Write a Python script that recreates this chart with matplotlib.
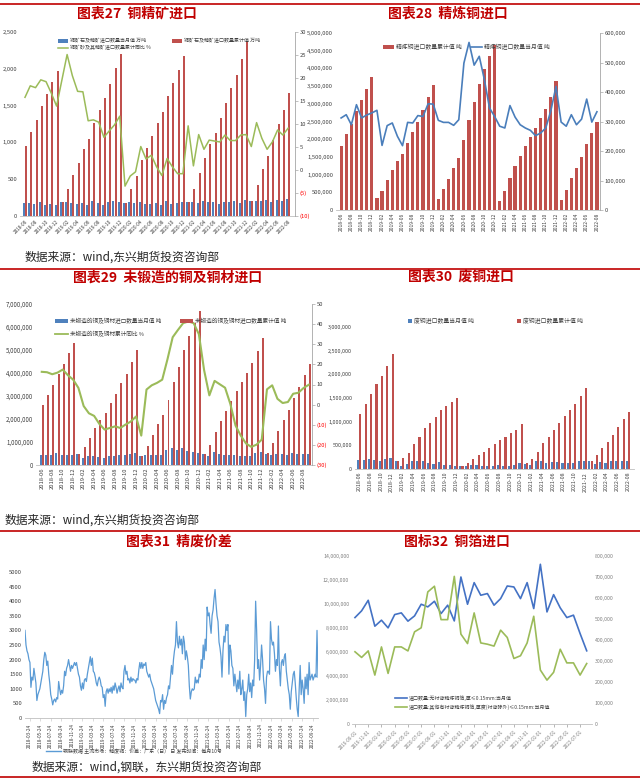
import numpy as np
import pandas as pd
import matplotlib
matplotlib.use('Agg')
import matplotlib.pyplot as plt
from matplotlib.patches import Rectangle
from matplotlib.lines import Line2D

plt.rcParams['font.family'] = ['Noto Sans CJK SC', 'DejaVu Sans']
plt.rcParams['axes.unicode_minus'] = False

# ---------------- data ----------------
months27 = [p.strftime('%Y-%m') for p in pd.period_range('2018-06', '2022-08', freq='M')]
monthly27 = [170, 180, 160, 185, 150, 165, 145,
             185, 188, 170, 160, 180, 145, 200, 180, 155, 185, 210, 185,
             180, 185, 170, 195, 165, 160, 170, 155, 210, 165, 180, 185,
             195, 195, 170, 210, 185, 185, 165, 185, 185, 210, 170, 215,
             200, 200, 200, 215, 185, 215, 200, 225]
cum27 = [955, 1141, 1305, 1495, 1655, 1827, 1973,
         185, 373, 559, 714, 905, 1045, 1259, 1441, 1600, 1791, 2005, 2200,
         180, 373, 550, 755, 923, 1086, 1259, 1418, 1636, 1805, 1982, 2177,
         190, 373, 591, 782, 977, 1123, 1327, 1532, 1736, 1909, 2136, 2359,
         200, 418, 632, 818, 1032, 1245, 1436, 1668]
yoy27 = [15.8, 18.3, 17.9, 19.6, 19.2, 16.7, 13.9,
         19.5, 25.1, 20.5, 17.1, 17.0, 10.7, 10.9, 10.4, 7.1, 8.5, 9.8, 11.7,
         -3.5, -1.3, -0.4, 5.1, 2.4, 3.2, 0.7, -1.2, 2.5, 0.7, -0.8, -0.8,
         9.6, 0.9, 7.7, 4.5, 6.5, 6.3, 6.1, 7.6, 6.4, 6.4, 7.6, 7.7,
         5.1, 10.3, 6.9, 4.5, 6.1, 8.7, 7.6, 9.1]

months28 = months27
cum28 = [1817e3, 2147e3, 2440e3, 2787e3, 3117e3, 3418e3, 3757e3,
         339e3, 546e3, 847e3, 1139e3, 1375e3, 1591e3, 1893e3, 2194e3, 2495e3, 2834e3, 3183e3, 3540e3,
         311e3, 603e3, 885e3, 1186e3, 1478e3, 1987e3, 2552e3, 3041e3, 3559e3, 3992e3, 4341e3, 4652e3,
         264e3, 546e3, 904e3, 1234e3, 1535e3, 1798e3, 2072e3, 2326e3, 2589e3, 2862e3, 3202e3, 3635e3,
         292e3, 574e3, 904e3, 1196e3, 1488e3, 1864e3, 2175e3, 2495e3]
monthly28 = [312e3, 323e3, 289e3, 357e3, 312e3, 322e3, 329e3,
             338e3, 219e3, 286e3, 295e3, 250e3, 218e3, 297e3, 295e3, 320e3, 317e3, 360e3, 359e3,
             304e3, 297e3, 297e3, 287e3, 306e3, 498e3, 568e3, 491e3, 521e3, 442e3, 346e3, 317e3,
             284e3, 278e3, 354e3, 315e3, 289e3, 278e3, 270e3, 252e3, 261e3, 278e3, 337e3, 419e3,
             298e3, 284e3, 323e3, 289e3, 308e3, 376e3, 298e3, 333e3]

months29 = [p.strftime('%Y-%m') for p in pd.period_range('2018-06', '2022-09', freq='M')]
monthly29 = [440e3, 430e3, 430e3, 510e3, 430e3, 440e3, 430e3,
             470e3, 300e3, 370e3, 390e3, 340e3, 320e3, 410e3, 400e3, 440e3, 420e3, 460e3, 510e3,
             400e3, 420e3, 430e3, 440e3, 430e3, 650e3, 760e3, 660e3, 730e3, 590e3, 560e3, 520e3,
             470e3, 400e3, 560e3, 470e3, 450e3, 440e3, 430e3, 400e3, 390e3, 400e3, 510e3, 560e3,
             500e3, 440e3, 500e3, 460e3, 450e3, 530e3, 460e3, 500e3, 500e3]
cum29 = [2.614e6, 3.05e6, 3.47e6, 3.965e6, 4.40e6, 4.865e6, 5.30e6,
         0.465e6, 0.77e6, 1.19e6, 1.60e6, 1.96e6, 2.28e6, 2.687e6, 3.09e6, 3.56e6, 3.965e6, 4.46e6, 4.996e6,
         0.407e6, 0.828e6, 1.307e6, 1.77e6, 2.18e6, 2.83e6, 3.60e6, 4.28e6, 5.01e6, 5.59e6, 6.17e6, 6.68e6,
         0.48e6, 0.87e6, 1.45e6, 1.92e6, 2.35e6, 2.79e6, 3.22e6, 3.63e6, 4.02e6, 4.43e6, 4.94e6, 5.52e6,
         0.51e6, 0.97e6, 1.48e6, 1.96e6, 2.40e6, 2.93e6, 3.40e6, 3.92e6, 4.41e6]
yoy29 = [16.3, 16.1, 15.1, 15.9, 17.4, 14.6, 12.4,
         8.3, -0.7, -4.3, -5.6, -9.6, -12.4, -11.6, -10.8, -11.6, -9.9, -8.4, -5.9,
         -15.4, 7.5, 9.6, 10.8, 12.4, 22.5, 33.5, 37.1, 40.5, 41.3, 40.5, 35.0,
         17.1, 4.6, 11.8, 10.1, 8.4, 0.4, -10.4, -15.4, -19.3, -21.0, -19.9, -17.4,
         7.6, 9.6, 2.9, 0.8, 1.3, 5.4, 5.9, 8.3, 9.9]

months30 = months27
monthly30 = [200e3, 200e3, 220e3, 190e3, 170e3, 220e3, 240e3,
             170e3, 60e3, 100e3, 170e3, 165e3, 170e3, 120e3, 100e3, 150e3, 90e3, 90e3, 70e3,
             60e3, 60e3, 80e3, 80e3, 70e3, 70e3, 70e3, 80e3, 70e3, 70e3, 90e3, 120e3,
             110e3, 80e3, 160e3, 170e3, 130e3, 150e3, 140e3, 130e3, 130e3, 130e3, 170e3, 160e3,
             160e3, 100e3, 150e3, 120e3, 160e3, 160e3, 160e3, 160e3]
cum30 = [1.159e6, 1.37e6, 1.595e6, 1.79e6, 1.96e6, 2.17e6, 2.424e6,
         0.169e6, 0.232e6, 0.344e6, 0.52e6, 0.68e6, 0.87e6, 0.98e6, 1.09e6, 1.24e6, 1.335e6, 1.42e6, 1.50e6,
         0.063e6, 0.126e6, 0.21e6, 0.295e6, 0.365e6, 0.45e6, 0.52e6, 0.604e6, 0.674e6, 0.752e6, 0.829e6, 0.948e6,
         0.119e6, 0.204e6, 0.365e6, 0.548e6, 0.674e6, 0.829e6, 0.977e6, 1.117e6, 1.244e6, 1.37e6, 1.546e6, 1.714e6,
         0.169e6, 0.295e6, 0.443e6, 0.562e6, 0.724e6, 0.885e6, 1.047e6, 1.208e6]

spread31_start, spread31_end = '2018-02-24', '2022-10-24'
spread31 = [3000, 2500, 2300, 2200, 2000, 1900, 1050, 1400, 1300, 1700, 1450, 1200, 600, 800, 900,
            1000, 1200, 1400, 1600, 2000, 2250, 2150, 1800, 1950, 1500, 1200, 800, 650, 450, 600, 650,
            550, 700, 650, 1250, 1000, 800, 950, 850, 1100, 1600, 1450, 1700, 1800, 2000, 1800, 1600,
            1800, 1700, 1800, 1900, 1800, 1900, 1700, 1500, 1400, 1100, 950, 1200, 1000, 1300, 1350,
            1250, 1500, 1700, 1900, 2100, 1800, 2050, 1600, 1550, 1400, 1200, 1100, 1300, 1400, 1300,
            1100, 1050, 700, 800, 400, 900, 1000, 850, 1000, 900, 1050, 850, 1100, 950, 1200, 1050,
            850, 1000, 1100, 900, 1200, 1050, 1000, 1600, 1800, 1500, 1600, 1300, 1350, 1200, 1400,
            1250, 1350, 1300, 1300, 1200, 1350, 1300, 1650, 1900, 1700, 1900, 1700, 1850, 1800, 1900,
            1600, 1500, 1400, 1500, 1300, 1200, 1100, 1000, 800, 600, 500, 400, 300, 150, 600, 550,
            800, 300, 600, 500, 700, 800, 1100, 1000, 1400, 1800, 1500, 2000, 2300, 2500, 3300, 2600,
            2400, 2800, 2500, 2700, 2200, 2800, 2600, 2000, 2300, 2100, 1800, 1100, 650, 900, 1000,
            950, 1000, 1400, 1200, 1300, 1200, 1500, 1400, 2000, 1700, 2500, 2000, 2700, 2300, 3800,
            3500, 3600, 3200, 2900, 3500, 3700, 4100, 4400, 3900, 3500, 3300, 2600, 2400, 2100, 1400,
            2300, 2800, 2600, 3200, 3000, 3200, 1500, 2500, 2300, 1800, 1700, 1100, 1500, 1200, 900,
            1300, 1000, 1600, 800, 1000, 1300, 600, 900, 50, 800, 1000, 1500, 900, 1200, 700, 1300,
            1100, 2000, 4000, 3000, 1700, 2000, 1300, 1800, 2500, 2000, 1300, 1000, 500, 1400, 1600,
            1600, 1500, 3300, 2700, 2500, 2600, 2200, 1600, 2000, 1800, 3150, 1700, 1100, 1900, 2000,
            1800, 2100, 2200, 1600, 1300, 1000, 800, 300, 900, 1200, 1500, 1600, 1200, 700, 300, 50,
            1000, 1800, 800, 1300, 1000, 500, 1400, 1000, 1500, 800, 1900, 1300, 1400, 1500, 1300,
            1400, 1500, 1400, 3000, 1400]

months32 = [p.strftime('%Y-%m-01') for p in pd.period_range('2019-09', '2022-08', freq='M')]
foil32_a = [8.87e6, 9.43e6, 10.31e6, 8.15e6, 8.65e6, 8.01e6, 9.12e6, 9.26e6, 8.57e6, 9.01e6,
            9.98e6, 9.76e6, 10.23e6, 9.20e6, 9.90e6, 8.59e6, 12.25e6, 9.98e6, 11.78e6, 10.73e6,
            10.87e6, 9.90e6, 10.45e6, 11.50e6, 11.42e6, 10.45e6, 11.78e6, 9.62e6, 13.31e6, 9.34e6,
            10.78e6, 9.68e6, 8.87e6, 9.07e6, 7.54e6, 6.10e6]
foil32_b = [344e3, 317e3, 348e3, 233e3, 367e3, 241e3, 367e3, 367e3, 348e3, 439e3,
            458e3, 629e3, 656e3, 497e3, 497e3, 703e3, 428e3, 383e3, 529e3, 386e3,
            380e3, 371e3, 447e3, 412e3, 312e3, 325e3, 386e3, 513e3, 257e3, 209e3,
            246e3, 356e3, 291e3, 291e3, 233e3, 288e3]

# ---------------- figure ----------------
W, H = 640, 781
fig = plt.figure(figsize=(6.4, 7.81), dpi=100)
fig.patch.set_facecolor('white')

BLUE = '#4F81BD'
RED = '#C0504D'
GREEN = '#9BBB59'
TITLE_RED = '#C00000'
TXT = '#404040'


def ax_px(l, t, r, b):
    return fig.add_axes([l / W, 1 - b / H, (r - l) / W, (b - t) / H])


def fx(x):
    return x / W


def fy(y):
    return 1 - y / H


def base_style(ax, fs=4.5):
    for s in ax.spines:
        ax.spines[s].set_visible(False)
    ax.spines['bottom'].set_visible(True)
    ax.spines['bottom'].set_color('#bfbfbf')
    ax.spines['bottom'].set_linewidth(0.6)
    ax.tick_params(axis='y', length=0, labelsize=fs, colors=TXT, pad=2)
    ax.tick_params(axis='x', length=0, labelsize=fs - 0.5, colors=TXT, pad=2)
    ax.set_facecolor('none')


def right_style(ax2, fs=4.5):
    for s in ax2.spines:
        ax2.spines[s].set_visible(False)
    ax2.spines['right'].set_visible(True)
    ax2.spines['right'].set_color('#a6a6a6')
    ax2.spines['right'].set_linewidth(0.6)
    ax2.tick_params(axis='y', length=2, width=0.5, color='#a6a6a6', labelsize=fs, colors=TXT, pad=1.5)


def paren_labels(ax2, ticks, fs):
    ax2.set_yticks(ticks)
    labs = []
    for t in ticks:
        labs.append(f'({abs(int(t))})' if t < 0 else f'{int(t)}')
    ax2.set_yticklabels(labs)
    for t, lab in zip(ticks, ax2.get_yticklabels()):
        if t < 0:
            lab.set_color('#FF0000')


def comma_ticks(ax, ticks):
    ax.set_yticks(ticks)
    ax.set_yticklabels([f'{int(t):,}' for t in ticks])


def leg_patch(x, y, color, text, fs, w=9, h=4):
    fig.add_artist(Rectangle((fx(x), fy(y + h / 2)), w / W, h / H,
                             transform=fig.transFigure, color=color, lw=0))
    fig.text(fx(x + w + 2), fy(y), text, fontsize=fs, va='center', ha='left', color=TXT)


def leg_line(x, y, color, text, fs, w=12, lw=1.2):
    fig.add_artist(Line2D([fx(x), fx(x + w)], [fy(y), fy(y)], transform=fig.transFigure,
                          color=color, lw=lw))
    fig.text(fx(x + w + 2), fy(y), text, fontsize=fs, va='center', ha='left', color=TXT)


def title(x, y, text):
    fig.text(fx(x), fy(y), text, fontsize=10, fontweight='bold', color=TITLE_RED,
             ha='center', va='center')


def source(x, y, text):
    fig.text(fx(x), fy(y), text, fontsize=8.5, color='#262626', ha='left', va='center')


def hline(y):
    fig.add_artist(Line2D([0, 1], [fy(y), fy(y)], transform=fig.transFigure,
                          color=TITLE_RED, lw=1.2))


# ---------------- chart 27 ----------------
title(137, 14, '图表27  铜精矿进口')
ax = ax_px(20, 32, 295, 216)
base_style(ax, 4.2)
x = np.arange(len(months27))
ax.bar(x - 0.2, monthly27, 0.38, color=BLUE, lw=0)
ax.bar(x + 0.2, cum27, 0.38, color=RED, lw=0)
ax.set_xlim(-0.95, len(x) + 0.3)
ax.set_ylim(0, 2500)
comma_ticks(ax, np.arange(0, 2501, 500))
ax.set_xticks(x[::2])
ax.set_xticklabels(months27[::2], rotation=45, ha='right', va='top', rotation_mode='anchor', fontsize=3.4)
ax2 = ax.twinx()
right_style(ax2, 4.2)
ax2.plot(x, yoy27, color=GREEN, lw=1.1)
ax2.set_ylim(-10, 30)
paren_labels(ax2, np.arange(-10, 31, 5), 4.2)
leg_patch(58, 41, BLUE, '铜矿石及精矿进口数量当月值 万吨', 3.6, w=10, h=3.5)
leg_patch(172, 41, RED, '铜矿石及精矿进口数量累计值 万吨', 3.6, w=10, h=3.5)
leg_line(58, 48, GREEN, '铜矿砂及其精矿进口数量累计同比 %', 3.6, w=10, lw=1.1)
source(25, 257, '数据来源：wind,东兴期货投资咨询部')

# ---------------- chart 28 ----------------
title(448, 14, '图表28  精炼铜进口')
ax = ax_px(336, 33, 600, 210)
base_style(ax, 4.2)
x = np.arange(len(months28))
ax.bar(x, cum28, 0.62, color=RED, lw=0)
ax.set_xlim(-1.0, len(x) - 0.4)
ax.set_ylim(0, 5e6)
comma_ticks(ax, np.arange(0, 5e6 + 1, 5e5))
ax.set_xticks(x[::2])
ax.set_xticklabels(months28[::2], rotation=90, fontsize=3.6)
ax2 = ax.twinx()
right_style(ax2, 4.2)
ax2.plot(x, monthly28, color='#4A7EBB', lw=1.2)
ax2.set_ylim(0, 6e5)
comma_ticks(ax2, np.arange(0, 6e5 + 1, 1e5))
leg_patch(383, 47, RED, '精炼铜进口数量累计值 吨', 4.2, w=11, h=4)
leg_line(471, 47, '#4A7EBB', '精炼铜进口数量当月值 吨', 4.2, w=11, lw=1.2)

hline(4)
hline(269)

# ---------------- chart 29 ----------------
title(168, 278, '图表29  未锻造的铜及铜材进口')
ax = ax_px(36, 304, 312, 465)
base_style(ax, 4.4)
x = np.arange(len(months29))
ax.bar(x - 0.2, monthly29, 0.38, color=BLUE, lw=0)
ax.bar(x + 0.2, cum29, 0.38, color=RED, lw=0)
ax.set_xlim(-1.1, len(x) - 0.4)
ax.set_ylim(0, 7e6)
comma_ticks(ax, np.arange(0, 7e6 + 1, 1e6))
ax.set_xticks(x[:-1:2])
ax.set_xticklabels(months29[:-1:2], rotation=90, fontsize=4.2)
ax2 = ax.twinx()
right_style(ax2, 4.2)
ax2.plot(x, yoy29, color=GREEN, lw=1.5)
ax2.set_ylim(-30, 50)
paren_labels(ax2, np.arange(-30, 51, 10), 4.2)
leg_patch(55, 321, BLUE, '未锻造的铜及铜材进口数量当月值 吨', 4.1, w=13, h=4.5)
leg_patch(180, 321, RED, '未锻造的铜及铜材进口数量累计值 吨', 4.1, w=13, h=4.5)
leg_line(55, 334, GREEN, '未锻造的铜及铜材累计同比 %', 4.1, w=13, lw=1.3)
source(5, 520, '数据来源：wind,东兴期货投资咨询部')

# ---------------- chart 30 ----------------
title(461, 277, '图表30  废铜进口')
ax = ax_px(355, 327, 634, 469)
base_style(ax, 3.9)
x = np.arange(len(months30))
ax.bar(x - 0.2, monthly30, 0.38, color=BLUE, lw=0)
ax.bar(x + 0.2, cum30, 0.38, color=RED, lw=0)
ax.set_xlim(-0.8, len(x) + 0.1)
ax.set_ylim(0, 3e6)
comma_ticks(ax, np.arange(0, 3e6 + 1, 5e5))
ax.set_xticks(x[::2])
ax.set_xticklabels(months30[::2], rotation=90, fontsize=3.8)
leg_patch(408, 321, BLUE, '废铜进口数量当月值 吨', 4.2, w=4, h=4)
leg_patch(517, 321, RED, '废铜进口数量累计值 吨', 4.2, w=4, h=4)

hline(531)

# ---------------- chart 31 ----------------
title(179, 542, '图表31  精废价差')
ax = ax_px(25, 572, 318, 718)
base_style(ax, 4.2)
d = pd.date_range(spread31_start, spread31_end, periods=len(spread31))
ax.plot(d, spread31, color='#5B9BD5', lw=0.9)
ax.set_ylim(0, 5000)
ax.set_yticks(np.arange(0, 5001, 500))
tick_dates = pd.date_range('2018-02-24', '2022-10-24', freq='2MS') + pd.Timedelta(days=23)
ax.set_xlim(pd.Timestamp(spread31_start), pd.Timestamp(spread31_end))
ax.set_xticks(tick_dates)
ax.set_xticklabels([t.strftime('%Y-%m-%d') for t in tick_dates], rotation=90, fontsize=3.4)
ax.tick_params(axis='x', length=2, width=0.4, color='#bfbfbf')
leg_line(46, 751, '#5B9BD5', '钢联数据 主流市场：精废铜：价差：广东（日） 日 发布时间：每月10号', 3.6, w=15, lw=1.0)
source(32, 767, '数据来源：wind,钢联，东兴期货投资咨询部')

# ---------------- chart 32 ----------------
title(457, 542, '图标32  铜箔进口')
ax = ax_px(352, 556, 592, 724)
base_style(ax, 3.8)
x = np.arange(len(months32))
ax.plot(x, foil32_a, color='#4472C4', lw=1.2)
ax.set_xlim(-0.45, len(x) - 0.2)
ax.set_ylim(0, 14e6)
comma_ticks(ax, np.arange(0, 14e6 + 1, 2e6))
ax.tick_params(axis='y', colors='#808080')
ax.set_xticks(x[::2])
ax.set_xticklabels(months32[::2], rotation=45, ha='right', va='top', rotation_mode='anchor', fontsize=3.4)
ax.tick_params(axis='x', colors='#808080', length=2, width=0.4)
ax2 = ax.twinx()
for s in ax2.spines:
    ax2.spines[s].set_visible(False)
ax2.plot(x, foil32_b, color=GREEN, lw=1.2)
ax2.set_ylim(0, 8e5)
comma_ticks(ax2, np.arange(0, 8e5 + 1, 1e5))
ax2.tick_params(axis='y', length=0, labelsize=3.8, colors='#808080', pad=2)
leg_line(395, 698, '#4472C4', '进口数量:无衬背精炼铜箔,厚≤0.15mm:当月值', 3.6, w=12, lw=1.2)
leg_line(395, 707, GREEN, '进口数量:其他有衬背精炼铜箔,厚度(衬背除外)≤0.15mm:当月值', 3.6, w=12, lw=1.2)

hline(777)

fig.savefig('out.png', dpi=100, facecolor='white')
